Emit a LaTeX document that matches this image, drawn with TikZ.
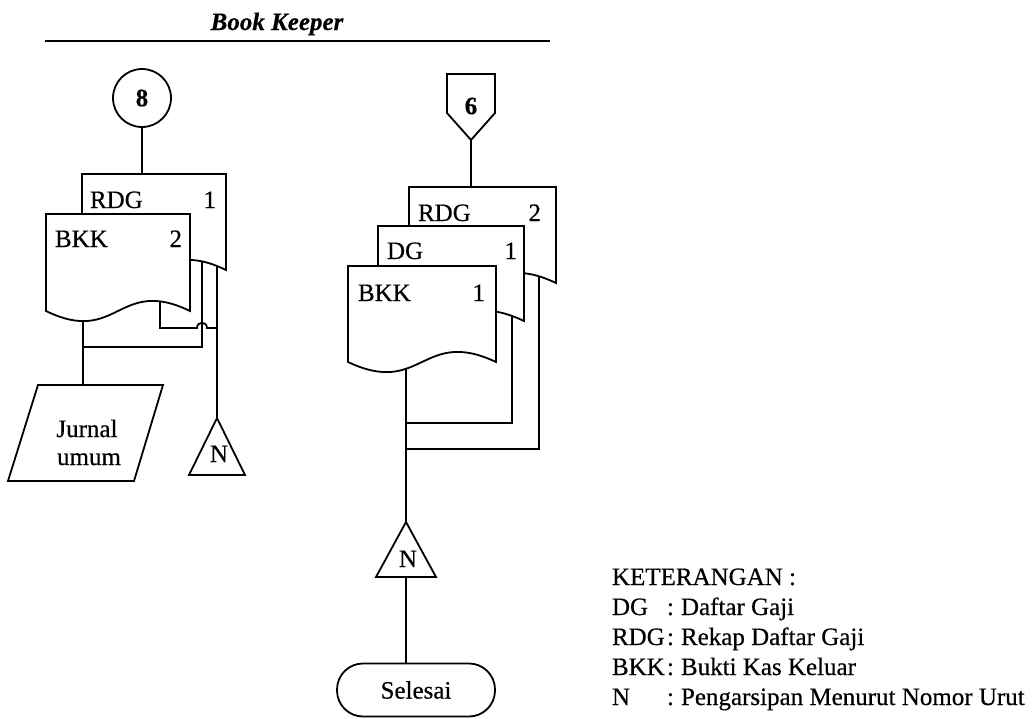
\documentclass[tikz,border=0pt]{standalone}
\usepackage{fontspec}
\setmainfont{Liberation Serif}[FakeBold=0.5]
\usetikzlibrary{calc}
\newcommand{\mkdoc}[5]{\node[docbox, minimum width={(#4-#2)*1pt}, minimum height={(#5-#3)*1pt}] (#1) at ({(#2+#4)/2},{(#3+#5)/2}) {};}
\newcommand{\drawdoc}[1]{\draw[fill=white] (#1.north west) -- (#1.north east) -- (#1.south east) .. controls ($(#1.south)+(0,-35)$) and ($(#1.south)+(0,35)$) .. (#1.south west) -- cycle;}
\begin{document}
\begin{tikzpicture}[x=1pt,y=-1pt,line width=1.8pt,
  font=\fontsize{25}{30}\selectfont,
  docbox/.style={draw=none,inner sep=0pt,outer sep=0pt},
  shp/.style={draw=none,inner sep=0pt,outer sep=0pt},
  txt/.style={inner sep=0pt,outer sep=0pt},
  lw/.style={txt,anchor=base west},
  le/.style={txt,anchor=base east},
  bold/.style={font=\fontsize{25}{30}\selectfont\bfseries}]
\useasboundingbox (0,0) rectangle (1034,718);
% header
\node[txt,anchor=base,font=\fontsize{25}{30}\selectfont\bfseries\itshape] (hdr) at (277,30) {Book Keeper};
\coordinate (hl) at (45,41); \coordinate (hr) at (550,41);
\draw (hl) -- (hr);
% ---------- left column ----------
\node[draw,circle,minimum size=58pt,inner sep=0pt,bold] (c8) at (142,98) {8};
\mkdoc{rdgA}{82}{174}{226}{270}
\mkdoc{bkkA}{46}{214}{190}{311}
\node[shp,minimum width=155pt,minimum height=96pt] (jur) at (85.5,433) {};
\node[shp,minimum width=56pt,minimum height=57pt] (nL) at (217,446.5) {};
\coordinate (bkkAo) at ($(bkkA.south west)+(37,-20)$);
\coordinate (bkkAo2) at ($(bkkA.south west)+(114,-20)$);
\coordinate (rdgAo1) at ($(rdgA.south west)+(120,-25)$);
\coordinate (rdgAo2) at ($(rdgA.south west)+(135,-25)$);
\coordinate (j1) at (bkkAo |- 0,347);
\coordinate (j2) at (rdgAo2 |- 0,328);
\coordinate (xb) at (rdgAo1 |- j2);
\draw (c8.south) -- (c8.south |- rdgA.north);
\draw (bkkAo) -- (bkkAo |- jur.north);
\draw (rdgAo1) |- (j1);
\draw (bkkAo2) |- ($(xb)+(-5,0)$) .. controls +(0,-7) and +(0,-7) .. ($(xb)+(5,0)$) -- (j2);
\draw (rdgAo2) -- (rdgAo2 |- nL.north);
\drawdoc{rdgA}
\drawdoc{bkkA}
\draw ($(jur.north west)+(30,0)$) -- (jur.north east) -- ($(jur.south east)+(-29,0)$) -- (jur.south west) -- cycle;
\draw (nL.south west) -- (nL.north) -- (nL.south east) -- cycle;
\node[lw] (tA1) at (90,208) {RDG}; \node[le] (tA1n) at (216,208) {1};
\node[lw] (tA2) at (55,247) {BKK}; \node[le] (tA2n) at (182,247) {2};
\node[txt,anchor=base] (tj1) at (87,437) {Jurnal};
\node[txt,anchor=base] (tj2) at (89,465) {umum};
\node[txt,anchor=base] (tnL) at (219,462) {N};
% ---------- right column ----------
\node[shp,minimum width=48pt,minimum height=66pt] (off6) at (471,107) {};
\draw (off6.south) -- ($(off6.north west)+(0,39)$) -- (off6.north west) -- (off6.north east) -- ($(off6.north east)+(0,39)$) -- cycle;
\node[txt,bold] (t6) at (471,106) {6};
\mkdoc{rdgB}{409}{187}{556}{283}
\mkdoc{dgB}{378}{226}{524}{321}
\mkdoc{bkkB}{348}{266}{496}{362}
\node[shp,minimum width=60pt,minimum height=55pt] (nR) at (406,549.5) {};
\node[draw,rounded corners=26pt,minimum width=158pt,minimum height=53pt,inner sep=0pt] (sel) at (416,690) {Selesai};
\coordinate (bkkBo) at ($(bkkB.south west)+(58,-20)$);
\coordinate (dgBo) at ($(dgB.south west)+(134,-20)$);
\coordinate (rdgBo) at ($(rdgB.south west)+(130,-20)$);
\draw (off6.south) -- (off6.south |- rdgB.north);
\draw (bkkBo) -- (bkkBo |- nR.north);
\draw (dgBo) |- (bkkBo |- 0,423);
\draw (rdgBo) |- (bkkBo |- 0,449);
\draw (nR.south) -- (nR.south |- sel.north);
\drawdoc{rdgB}
\drawdoc{dgB}
\drawdoc{bkkB}
\draw (nR.south west) -- (nR.north) -- (nR.south east) -- cycle;
\node[lw] (tB1) at (418,221) {RDG}; \node[le] (tB1n) at (541,221) {2};
\node[lw] (tB2) at (387,259) {DG}; \node[le] (tB2n) at (517,259) {1};
\node[lw] (tB3) at (358,301) {BKK}; \node[le] (tB3n) at (485,301) {1};
\node[txt,anchor=base] (tnR) at (408,567) {N};
% ---------- legend ----------
\node[lw] (k0) at (612,585) {KETERANGAN :};
\node[lw] (k1a) at (612,615) {DG};  \node[lw] (k1b) at (667,615) {:}; \node[lw] (k1c) at (681,615) {Daftar Gaji};
\node[lw] (k2a) at (612,645) {RDG}; \node[lw] (k2b) at (667,645) {:}; \node[lw] (k2c) at (681,645) {Rekap Daftar Gaji};
\node[lw] (k3a) at (612,675) {BKK}; \node[lw] (k3b) at (667,675) {:}; \node[lw] (k3c) at (681,675) {Bukti Kas Keluar};
\node[lw] (k4a) at (612,705) {N};   \node[lw] (k4b) at (667,705) {:}; \node[lw] (k4c) at (681,705) {Pengarsipan Menurut Nomor Urut};
\end{tikzpicture}
\end{document}
